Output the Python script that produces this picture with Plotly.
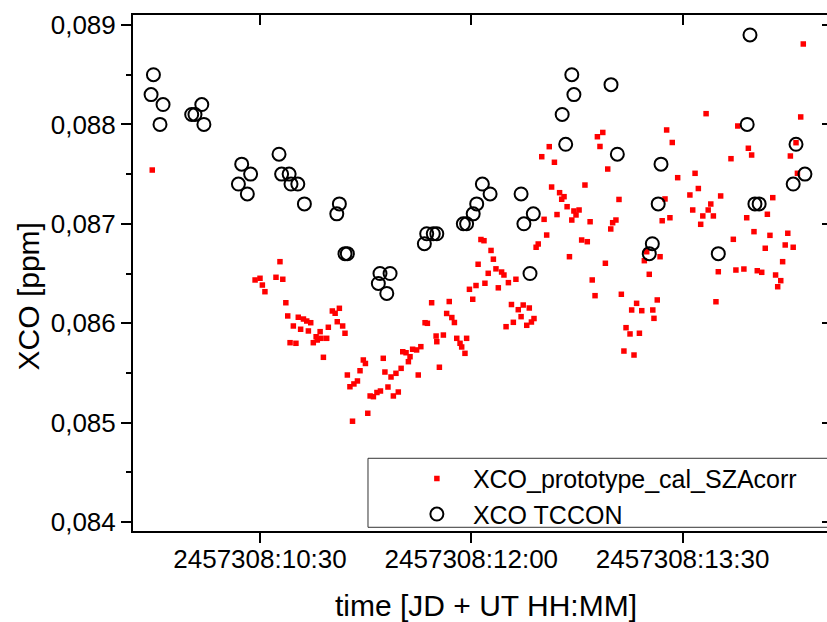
import plotly.graph_objects as go

# time in minutes after 00:00 UT (JD 2457308), XCO in ppm
proto_t = [584.1, 627.9, 630.0, 631.0, 632.1, 636.8, 638.5, 639.7, 641.0, 641.8,
           642.8, 644.2, 645.3, 646.3, 647.3, 648.5, 649.9, 650.6, 651.6, 652.7,
           653.9, 654.4, 655.6, 656.0, 657.0, 658.4, 659.1, 660.8, 662.0, 662.9,
           663.8, 665.2, 666.2, 667.2, 668.3, 669.4, 670.0, 671.5, 672.6, 674.0,
           674.9, 675.9, 676.9, 678.3, 679.8, 681.3, 682.5, 683.2, 684.5, 685.8,
           686.8, 687.9, 688.9, 690.1, 690.8, 692.2, 693.2, 693.9, 695.0, 696.7,
           697.4, 698.5, 700.3, 701.3, 703.1, 705.0, 705.3, 706.4, 708.1, 709.5,
           710.6, 711.7, 712.8, 713.8, 715.2, 715.9, 717.3, 718.0, 719.2, 720.6,
           722.0, 722.9, 724.1, 725.4, 725.8, 727.2, 728.4, 729.4, 730.5, 731.5,
           732.9, 733.9, 734.8, 735.8, 737.1, 737.9, 739.0, 740.0, 741.2, 742.1,
           743.6, 744.7, 745.6, 746.7, 747.6, 748.5, 750.0, 751.0, 752.1, 753.2,
           754.2, 755.4, 756.5, 757.6, 758.5, 759.5, 760.8, 761.8, 762.8, 763.7,
           764.6, 765.9, 767.0, 768.4, 769.4, 770.6, 771.5, 772.7, 773.7, 774.8,
           776.0, 777.1, 778.1, 779.4, 780.2, 781.6, 782.9, 783.9, 785.0, 785.9,
           787.6, 788.3, 789.3, 790.4, 791.6, 792.6, 793.7, 794.7, 795.8, 797.3,
           797.8, 799.2, 800.4, 801.3, 802.5, 803.2, 804.6, 805.6, 807.9, 813.1,
           814.3, 815.3, 816.7, 817.7, 818.6, 820.0, 820.9, 822.0, 823.1, 824.2,
           825.2, 826.2, 830.6, 831.6, 832.7, 833.5, 836.1, 837.3, 838.0, 839.4,
           840.4, 841.8, 843.7, 845.2, 846.1, 847.2, 848.4, 849.6, 850.5, 851.8,
           852.6, 853.7, 854.8, 855.9, 857.1, 858.3, 858.9, 860.3, 861.4]
proto_v = [0.087541, 0.086435, 0.086452, 0.086384, 0.086317, 0.086462, 0.086619, 0.086442, 0.086206, 0.086073,
           0.085804, 0.085972, 0.085798, 0.086060, 0.085939, 0.086042, 0.086022, 0.085922, 0.086005, 0.085804,
           0.085864, 0.085831, 0.085915, 0.085848, 0.085657, 0.085848, 0.085959, 0.086123, 0.086100, 0.086015,
           0.086150, 0.085972, 0.085899, 0.085479, 0.085361, 0.085014, 0.085389, 0.085419, 0.085522, 0.085630,
           0.085595, 0.085094, 0.085268, 0.085261, 0.085303, 0.085318, 0.085647, 0.085509, 0.085358, 0.085459,
           0.085268, 0.085496, 0.085308, 0.085546, 0.085713, 0.085703, 0.085613, 0.085663, 0.085738, 0.085731,
           0.085479, 0.085764, 0.086005, 0.085999, 0.086206, 0.085871, 0.085814, 0.085557, 0.085881, 0.086098,
           0.086218, 0.086057, 0.086007, 0.085848, 0.085798, 0.085761, 0.085697, 0.085848, 0.086341, 0.086241,
           0.086379, 0.086593, 0.086842, 0.086830, 0.086402, 0.086502, 0.086732, 0.086644, 0.086547, 0.086356,
           0.086515, 0.086485, 0.085965, 0.086408, 0.086188, 0.086009, 0.086442, 0.086136, 0.086066, 0.086183,
           0.085979, 0.086153, 0.086012, 0.086047, 0.086764, 0.086797, 0.087675, 0.087045, 0.086887, 0.087776,
           0.087370, 0.087619, 0.087093, 0.087313, 0.087247, 0.087273, 0.087172, 0.086669, 0.087038, 0.087129,
           0.087089, 0.087139, 0.086837, 0.087390, 0.086820, 0.087021, 0.086435, 0.086277, 0.087876, 0.087778,
           0.087919, 0.086603, 0.087551, 0.086948, 0.087011, 0.087038, 0.087245, 0.086291, 0.085720, 0.085955,
           0.085892, 0.086133, 0.085680, 0.086200, 0.085899, 0.086126, 0.086629, 0.086719, 0.086492, 0.086133,
           0.086049, 0.086234, 0.086669, 0.087031, 0.087250, 0.087944, 0.087061, 0.087818, 0.087464, 0.087290,
           0.087139, 0.087508, 0.087355, 0.086995, 0.087079, 0.088108, 0.087139, 0.087199, 0.087079, 0.086216,
           0.086518, 0.087280, 0.087655, 0.086844, 0.086535, 0.087984, 0.086545, 0.087061, 0.087760, 0.087692,
           0.086921, 0.086528, 0.086512, 0.086754, 0.087096, 0.086884, 0.087263, 0.086485, 0.086367, 0.086428,
           0.086619, 0.086787, 0.086905, 0.087682, 0.086764, 0.087816, 0.087508, 0.088075, 0.088809]

tccon_t = [583.6, 584.6, 587.4, 588.7, 600.9, 602.3, 605.2, 606.1, 620.8, 622.2,
           624.6, 626.0, 638.1, 639.2, 642.4, 643.2, 646.1, 648.9, 662.7, 663.8,
           666.2, 667.2, 680.4, 681.1, 684.0, 685.4, 700.0, 701.0, 703.8, 705.3,
           716.6, 718.0, 720.8, 722.3, 724.7, 728.0, 741.2, 742.4, 745.0, 746.4,
           758.7, 760.2, 762.8, 763.7, 779.5, 782.2, 795.8, 797.1, 799.6, 800.8,
           825.2, 837.5, 838.7, 840.8, 842.6, 857.1, 858.3, 862.1]
tccon_v = [0.0883, 0.0885, 0.0880, 0.0882, 0.0881, 0.0881, 0.0882, 0.0880, 0.0874, 0.0876,
           0.0873, 0.0875, 0.0877, 0.0875, 0.0875, 0.0874, 0.0874, 0.0872, 0.0871, 0.0872,
           0.0867, 0.0867, 0.0864, 0.0865, 0.0863, 0.0865, 0.0868, 0.0869, 0.0869, 0.0869,
           0.0870, 0.0870, 0.0871, 0.0872, 0.0874, 0.0873, 0.0873, 0.0870, 0.0865, 0.0871,
           0.0881, 0.0878, 0.0885, 0.0883, 0.0884, 0.0877, 0.0867, 0.0868, 0.0872, 0.0876,
           0.0867, 0.0880, 0.0889, 0.0872, 0.0872, 0.0874, 0.0878, 0.0875]

tick_vals = [630, 720, 810]
tick_text = ["2457308:10:30", "2457308:12:00", "2457308:13:30"]
y_ticks = [0.084, 0.085, 0.086, 0.087, 0.088, 0.089]

X_RANGE = [575.9, 871.5]
Y_RANGE = [0.0839096, 0.0891006]
FONT = "Liberation Sans, Arial, sans-serif"

fig = go.Figure()
fig.add_trace(go.Scatter(
    x=proto_t, y=proto_v, mode="markers", name="XCO_prototype_cal_SZAcorr",
    marker=dict(symbol="square", size=5.5, color="#ff0000", line=dict(width=0)),
))
fig.add_trace(go.Scatter(
    x=tccon_t, y=tccon_v, mode="markers", name="XCO TCCON",
    marker=dict(symbol="circle-open", size=13, color="black", line=dict(width=2, color="black")),
))
# helper trace so the top/right tick axes are drawn
fig.add_trace(go.Scatter(x=[], y=[], xaxis="x2", yaxis="y2", showlegend=False, hoverinfo="skip"))

fig.update_layout(
    width=827, height=622,
    margin=dict(l=133, r=0, t=15, b=91),
    paper_bgcolor="white", plot_bgcolor="white",
    separators=",.",
    font=dict(family=FONT, size=24, color="black"),
    showlegend=True,
    legend=dict(
        x=0.386, y=0.1457, xanchor="left", yanchor="top",
        bgcolor="rgba(0,0,0,0)", borderwidth=0,
        font=dict(family=FONT, size=25, color="black"),
        itemwidth=62, tracegroupgap=0,
    ),
    xaxis=dict(
        range=X_RANGE, showgrid=False, zeroline=False,
        showline=True, linewidth=2, linecolor="black", mirror=True,
        tickmode="array", tickvals=tick_vals, ticktext=tick_text,
        ticks="outside", ticklen=10, tickwidth=2, tickcolor="black",
        tickfont=dict(family=FONT, size=26), ticklabelstandoff=-6,
    ),
    yaxis=dict(
        range=Y_RANGE, showgrid=False, zeroline=False,
        showline=True, linewidth=2, linecolor="black", mirror=False,
        tickmode="array", tickvals=y_ticks, tickformat=".3f",
        ticks="outside", ticklen=10, tickwidth=2, tickcolor="black",
        tickfont=dict(family=FONT, size=26),
        minor=dict(ticks="outside", ticklen=5, tickwidth=2, tickcolor="black", dtick=0.0005, showgrid=False),
    ),
    xaxis2=dict(
        overlaying="x", side="top", range=X_RANGE, showgrid=False, zeroline=False,
        showline=False, tickmode="array", tickvals=tick_vals, showticklabels=False,
        ticks="inside", ticklen=10, tickwidth=2, tickcolor="black",
    ),
    yaxis2=dict(
        overlaying="y", side="right", range=Y_RANGE, showgrid=False, zeroline=False,
        showline=False, tickmode="array", tickvals=y_ticks, showticklabels=False,
        ticks="inside", ticklen=5, tickwidth=2, tickcolor="black",
    ),
    shapes=[dict(
        type="rect", xref="paper", yref="paper",
        x0=0.3386, x1=1.02, y0=0.0072, y1=0.1409,
        line=dict(color="#333333", width=1), fillcolor="rgba(0,0,0,0)", layer="above",
    )],
    annotations=[
        dict(text="XCO [ppm]", textangle=-90, xref="paper", yref="paper",
             x=-0.151, y=0.455, xanchor="center", yanchor="middle", showarrow=False,
             font=dict(family=FONT, size=30, color="black")),
        dict(text="time [JD + UT HH:MM]", xref="paper", yref="paper",
             x=0.5085, y=-0.144, xanchor="center", yanchor="middle", showarrow=False,
             font=dict(family=FONT, size=30, color="black")),
    ],
)

fig.write_html("out.html", config={"displayModeBar": False},
               post_script="document.body.style.margin='0';document.body.style.overflow='hidden';")
